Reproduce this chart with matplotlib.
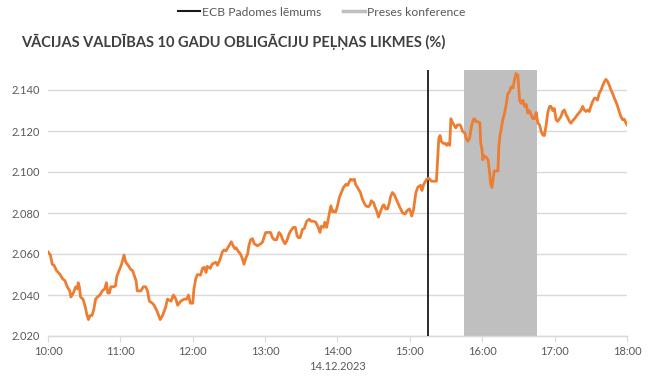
import matplotlib
matplotlib.use("Agg")
import matplotlib.pyplot as plt
import matplotlib.dates as mdates
from matplotlib.lines import Line2D
import pandas as pd

DAY = "2023-12-14"
times = [
    "10:00", "10:02", "10:03:30", "10:05", "10:07", "10:10", "10:12", "10:14", "10:16", "10:18",
    "10:19", "10:21", "10:23", "10:24:30", "10:25", "10:26", "10:27", "10:29", "10:31", "10:32",
    "10:33:30", "10:35", "10:36:30", "10:38", "10:39:30", "10:41", "10:43", "10:45", "10:47", "10:48:30",
    "10:49:30", "10:51", "10:52", "10:54:30", "10:56", "10:57", "10:59", "11:01", "11:03", "11:04:30",
    "11:07", "11:08:30", "11:10", "11:13", "11:14", "11:17", "11:19", "11:21", "11:22:30", "11:24",
    "11:26:30", "11:28", "11:30:30", "11:33", "11:35", "11:37:30", "11:39", "11:42", "11:44", "11:46",
    "11:47:30", "11:50", "11:53", "11:55", "11:56:30", "11:58", "12:00", "12:01", "12:02:30", "12:04",
    "12:06:30", "12:08", "12:09:30", "12:11", "12:12", "12:14:30", "12:16", "12:17:30", "12:19", "12:20:30",
    "12:22", "12:23", "12:24:30", "12:26", "12:27:30", "12:29", "12:30", "12:32", "12:33:30", "12:35",
    "12:36", "12:37:30", "12:39:30", "12:41", "12:42:30", "12:44", "12:45:30", "12:46:30", "12:48", "12:49:30",
    "12:51", "12:53:30", "12:56:30", "12:58", "12:59", "13:00:30", "13:03:30", "13:04:30", "13:06", "13:07:30",
    "13:09:30", "13:11:30", "13:13", "13:14:30", "13:16:30", "13:18", "13:20", "13:21:30", "13:23:30", "13:25",
    "13:26:30", "13:27:30", "13:29", "13:31", "13:32:30", "13:34:30", "13:36:30", "13:38", "13:40", "13:42",
    "13:44", "13:45:30", "13:46:30", "13:48:30", "13:49:30", "13:51", "13:53", "13:54:30", "13:56", "13:57",
    "13:58:30", "14:00", "14:01:30", "14:02:30", "14:05", "14:07", "14:08:30", "14:09:30", "14:11", "14:12:30",
    "14:14", "14:15", "14:16:30", "14:19", "14:20:30", "14:22", "14:23:30", "14:25:30", "14:27", "14:28",
    "14:30", "14:31", "14:32:30", "14:34", "14:35:30", "14:37:30", "14:38:30", "14:40", "14:41:30", "14:43",
    "14:44", "14:45:30", "14:47", "14:48:30", "14:50", "14:51:30", "14:54", "14:56", "14:57:30", "14:59:30",
    "15:01", "15:01:30", "15:03", "15:05", "15:06:30", "15:07:30", "15:09", "15:10", "15:11:30", "15:12:30",
    "15:14", "15:15:30", "15:18", "15:22", "15:23", "15:24", "15:25", "15:26", "15:27:30", "15:29",
    "15:30:30", "15:31:30", "15:33", "15:34", "15:35", "15:36:30", "15:38", "15:39:30", "15:41:30", "15:42:30",
    "15:43:30", "15:45:30", "15:47", "15:48", "15:49:30", "15:51", "15:52:30", "15:53:30", "15:55", "15:56:30",
    "15:58", "15:58:45", "15:59:45", "16:00:30", "16:01:30", "16:03:30", "16:04:45", "16:06", "16:07", "16:08",
    "16:09", "16:10", "16:13", "16:13:45", "16:14:45", "16:15:45", "16:17", "16:18:30", "16:20", "16:21:15",
    "16:22:30", "16:24", "16:25:30", "16:26:45", "16:28", "16:29:30", "16:31", "16:32:15", "16:33:45", "16:35",
    "16:36:30", "16:37:45", "16:39", "16:40:30", "16:42", "16:43:15", "16:44:45", "16:46", "16:47:30", "16:48:45",
    "16:50:15", "16:51:30", "16:53", "16:54:15", "16:55:45", "16:57", "16:58:30", "16:59:45", "17:01:15", "17:02:30",
    "17:04", "17:05:15", "17:06:45", "17:08", "17:09:30", "17:11", "17:12:15", "17:13:30", "17:15", "17:16:30",
    "17:17:45", "17:19", "17:20:30", "17:22", "17:23:15", "17:24:30", "17:26", "17:27:30", "17:28:45", "17:30",
    "17:31:30", "17:33", "17:34:15", "17:35:30", "17:37", "17:38:30", "17:40", "17:41:15", "17:42:30", "17:44",
    "17:45:15", "17:46:45", "17:48", "17:49:30", "17:50:45", "17:52:15", "17:53:30", "17:55", "17:56:15", "17:57:45",
    "17:59", "18:00",
]
yields = [
    2.061, 2.0595, 2.055, 2.0545, 2.052, 2.050, 2.048, 2.047, 2.044, 2.042,
    2.039, 2.041, 2.044, 2.043, 2.046, 2.044, 2.039, 2.038, 2.034, 2.031,
    2.028, 2.030, 2.030, 2.033, 2.038, 2.039, 2.040, 2.042, 2.043, 2.046,
    2.041, 2.041, 2.044, 2.044, 2.0445, 2.049, 2.052, 2.055, 2.0595, 2.056,
    2.054, 2.0525, 2.052, 2.047, 2.042, 2.042, 2.044, 2.044, 2.042, 2.037,
    2.036, 2.035, 2.032, 2.028, 2.030, 2.034, 2.038, 2.037, 2.040, 2.038,
    2.035, 2.037, 2.038, 2.038, 2.040, 2.036, 2.036, 2.043, 2.048, 2.050,
    2.0497, 2.053, 2.0535, 2.051, 2.054, 2.053, 2.055, 2.0555, 2.056, 2.0545,
    2.0565, 2.058, 2.061, 2.062, 2.0615, 2.063, 2.064, 2.066, 2.064, 2.0625,
    2.063, 2.0615, 2.060, 2.058, 2.055, 2.058, 2.060, 2.064, 2.067, 2.0675,
    2.065, 2.064, 2.065, 2.066, 2.068, 2.0705, 2.0705, 2.0705, 2.068, 2.067,
    2.067, 2.0705, 2.0695, 2.067, 2.065, 2.0665, 2.070, 2.0715, 2.073, 2.073,
    2.069, 2.068, 2.068, 2.072, 2.0725, 2.076, 2.077, 2.076, 2.076, 2.0755,
    2.073, 2.0705, 2.0735, 2.073, 2.0755, 2.073, 2.079, 2.0835, 2.0805, 2.081,
    2.0805, 2.0835, 2.0875, 2.089, 2.0925, 2.094, 2.0935, 2.095, 2.0965, 2.096,
    2.0965, 2.094, 2.0925, 2.090, 2.087, 2.085, 2.0835, 2.083, 2.084, 2.086,
    2.085, 2.083, 2.081, 2.078, 2.0805, 2.0835, 2.084, 2.082, 2.082, 2.085,
    2.088, 2.090, 2.089, 2.087, 2.085, 2.083, 2.080, 2.0795, 2.081, 2.082,
    2.080, 2.0785, 2.0815, 2.090, 2.0925, 2.093, 2.0935, 2.091, 2.094, 2.095,
    2.0965, 2.097, 2.0955, 2.0955, 2.106, 2.1165, 2.1178, 2.115, 2.114, 2.114,
    2.113, 2.114, 2.113, 2.126, 2.1245, 2.123, 2.1215, 2.123, 2.123, 2.122,
    2.120, 2.119, 2.116, 2.115, 2.1165, 2.122, 2.1255, 2.126, 2.1245, 2.1245,
    2.124, 2.114, 2.111, 2.106, 2.108, 2.107, 2.106, 2.1005, 2.094, 2.0925,
    2.0965, 2.1005, 2.1005, 2.1125, 2.118, 2.121, 2.1255, 2.1287, 2.1335, 2.1384,
    2.139, 2.1416, 2.141, 2.1452, 2.148, 2.1473, 2.135, 2.1335, 2.135, 2.132,
    2.133, 2.1287, 2.130, 2.128, 2.126, 2.126, 2.129, 2.124, 2.123, 2.120,
    2.118, 2.1178, 2.123, 2.1287, 2.132, 2.132, 2.130, 2.131, 2.1255, 2.1247,
    2.126, 2.127, 2.1295, 2.1303, 2.128, 2.1263, 2.1247, 2.1238, 2.125, 2.126,
    2.127, 2.128, 2.129, 2.1303, 2.132, 2.1303, 2.1295, 2.1303, 2.1295, 2.132,
    2.1344, 2.136, 2.136, 2.135, 2.1384, 2.140, 2.1424, 2.144, 2.1452, 2.144,
    2.1424, 2.140, 2.1384, 2.136, 2.1344, 2.132, 2.1295, 2.127, 2.1255, 2.1258,
    2.124, 2.123,
]
ecb_decision = "15:15"
press_start, press_end = "15:45", "16:45"
x_start, x_end = "10:00", "18:00"
y_ticks = [2.020, 2.040, 2.060, 2.080, 2.100, 2.120, 2.140]
y_max = 2.150
title = "VĀCIJAS VALDĪBAS 10 GADU OBLIGĀCIJU PEĻŅAS LIKMES (%)"
date_label = "14.12.2023"
legend_labels = ["ECB Padomes lēmums", "Preses konference"]

plt.rcParams['font.family'] = ['Lato', 'DejaVu Sans']

def ts(t):
    return pd.Timestamp(f"{DAY} {t}")

x = [ts(t) for t in times]

fig = plt.figure(figsize=(6.5, 3.87), dpi=100)
ax = fig.add_axes([48/650, 1-336/387, (627-48)/650, (336-69.5)/387])

orange = "#ED7D31"
grid_c = "#D9D9D9"
text_c = "#595959"

ax.axvspan(ts(press_start), ts(press_end), color="#BFBFBF", lw=0, zorder=1)
ax.axvline(ts(ecb_decision), color="#1a1a1a", lw=1.3, zorder=3)
ax.plot(x, yields, color=orange, lw=2.0, zorder=4, solid_joinstyle='round')

ax.set_xlim(ts(x_start), ts(x_end))
ax.set_ylim(y_ticks[0], y_max)
ax.set_yticks(y_ticks)
ax.set_yticklabels([f"{v:.3f}" for v in y_ticks])
ax.xaxis.set_major_locator(mdates.HourLocator())
ax.xaxis.set_major_formatter(mdates.DateFormatter("%H:%M"))
ax.grid(axis='y', color=grid_c, lw=1, zorder=0)
ax.set_axisbelow(True)
for s in ['top', 'right', 'left']:
    ax.spines[s].set_visible(False)
ax.spines['bottom'].set_color(grid_c)
ax.spines['bottom'].set_linewidth(1)
ax.tick_params(axis='y', length=0, labelsize=8, labelcolor=text_c, pad=6)
ax.tick_params(axis='x', length=4, color=grid_c, labelsize=8, labelcolor=text_c, pad=3)
ax.set_xlabel(date_label, fontsize=8, color=text_c, labelpad=3)

fig.text(21/650, 1-42/387, title, fontsize=10.5, fontweight='bold', color="#404040", va='center', ha='left')

handles = [Line2D([], [], color="#1a1a1a", lw=1.5), Line2D([], [], color="#BFBFBF", lw=2.5)]
fig.legend(handles, legend_labels, loc='center', bbox_to_anchor=(322/650, 1-12/387), ncol=2, frameon=False,
           fontsize=8.7, labelcolor=text_c, handlelength=1.8, handletextpad=0.2, columnspacing=1.8)

fig.savefig("out.png", dpi=100)
